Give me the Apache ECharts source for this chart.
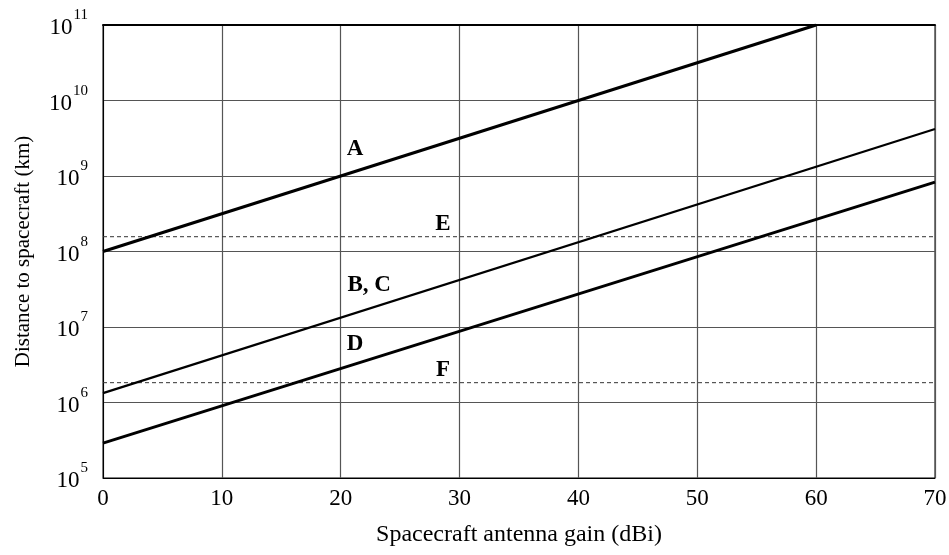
<!DOCTYPE html>
<html>
<head>
<meta charset="utf-8">
<title>Distance to spacecraft vs antenna gain</title>
<script src="https://cdn.jsdelivr.net/npm/echarts@6/dist/echarts.min.js"></script>
<style>
  html, body { margin: 0; padding: 0; background: #fff; }
  #chart { width: 949px; height: 555px; }
</style>
</head>
<body>
<div id="chart"></div>
<script>
// Gain axis (dBi) end points of each curve
const gainEnds = [0, 70];
const gainEndsA = [0, 60];

// Distance (km) at the gain end points
const distA = [1e8, 1e11];
const distBC = [1.33e6, 4.2e9];
const distD = [2.9e5, 8.3e8];
const distE = [1.57e8, 1.57e8];
const distF = [1.83e6, 1.83e6];

// Curve labels and where they sit (gain, distance)
const curveNames = ['A', 'B, C', 'D', 'E', 'F'];
const labelGain = [21.2, 22.4, 21.2, 28.6, 28.6];
const labelDist = [2.28e9, 3.6e7, 5.95e6, 2.31e8, 2.7e6];

// Axis ticks
const xTicks = [0, 10, 20, 30, 40, 50, 60, 70];
const yExponents = [5, 6, 7, 8, 9, 10, 11];

const FONT = 'Liberation Serif';

function pairs(xs, ys) {
  return xs.map((x, i) => [x, ys[i]]);
}

const chart = echarts.init(document.getElementById('chart'), null, { renderer: 'canvas' });

const solid = (name, xs, ys, w) => ({
  name, type: 'line', data: pairs(xs, ys), showSymbol: false, symbol: 'none',
  lineStyle: { color: '#000', width: w }, silent: true, z: 5
});
const dashed = (name, xs, ys) => ({
  name, type: 'line', data: pairs(xs, ys), showSymbol: false, symbol: 'none',
  lineStyle: { color: '#333', width: 1, type: [4, 3] }, silent: true, z: 4
});

chart.setOption({
  animation: false,
  backgroundColor: '#fff',
  grid: {
    left: 103, right: 14, top: 25, bottom: 77,
    containLabel: false, outerBoundsMode: 'none',
    show: true, borderColor: '#000', borderWidth: 1
  },
  xAxis: [{
    type: 'value', min: 0, max: 70, interval: 10,
    name: 'Spacecraft antenna gain (dBi)', nameLocation: 'middle', nameGap: 45,
    nameTextStyle: { fontFamily: FONT, fontSize: 24, color: '#000' },
    axisLine: { show: true, lineStyle: { color: '#000', width: 1 } },
    axisTick: { show: false },
    axisLabel: {
      fontFamily: FONT, fontSize: 23, color: '#000', margin: 9,
      formatter: v => xTicks.includes(v) ? String(v) : ''
    },
    splitLine: { show: true, lineStyle: { color: '#555', width: 1.2 } }
  }, {
    type: 'value', min: 0, max: 70, position: 'top',
    axisLine: { show: true, lineStyle: { color: '#000', width: 2 } },
    axisTick: { show: false }, axisLabel: { show: false }, splitLine: { show: false }
  }],
  yAxis: {
    type: 'log', logBase: 10, min: 1e5, max: 1e11,
    name: 'Distance to spacecraft (km)', nameLocation: 'middle', nameGap: 69,
    nameTextStyle: { fontFamily: FONT, fontSize: 21, color: '#000' },
    axisLine: { show: true, lineStyle: { color: '#000', width: 1 } },
    axisTick: { show: false },
    axisLabel: {
      margin: 15,
      padding: [6, 0, 0, 0],
      formatter: v => {
        const e = Math.round(Math.log10(v));
        return yExponents.includes(e) ? '{b|10}{e|' + e + '}' : '';
      },
      rich: {
        b: { fontFamily: FONT, fontSize: 23, lineHeight: 40, color: '#000', verticalAlign: 'middle' },
        e: { fontFamily: FONT, fontSize: 15, lineHeight: 15, color: '#000', verticalAlign: 'top', padding: [0, 0, 0, 1] }
      }
    },
    splitLine: { show: true, lineStyle: { color: '#555', width: 1.2 } }
  },
  series: [
    solid('A', gainEndsA, distA, 3),
    solid('B, C', gainEnds, distBC, 2.2),
    solid('D', gainEnds, distD, 3),
    dashed('E', gainEnds, distE),
    dashed('F', gainEnds, distF),
    {
      name: 'labels', type: 'scatter', symbolSize: 0, silent: true, z: 6,
      data: curveNames.map((n, i) => ({ name: n, value: [labelGain[i], labelDist[i]] })),
      label: {
        show: true, position: 'inside', formatter: p => p.name,
        fontFamily: FONT, fontSize: 23, fontWeight: 'bold', color: '#000',
        textBorderWidth: 0, opacity: 1
      }
    }
  ]
});
</script>
</body>
</html>
